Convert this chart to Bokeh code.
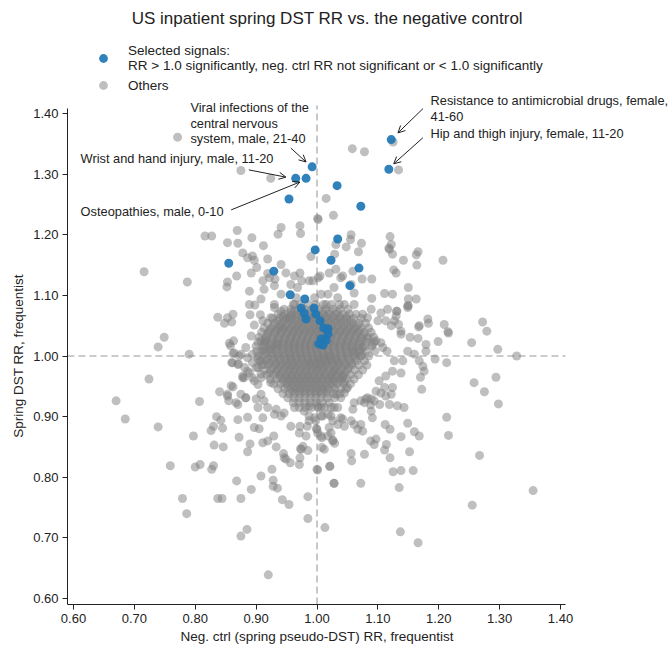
import math
from bokeh.plotting import figure
from bokeh.models import (Range1d, FixedTicker, NumeralTickFormatter, Label,
                          Arrow, OpenHead, Legend, LegendItem, ColumnDataSource)
from bokeh.embed import file_html
from bokeh.resources import INLINE

FONT = "Liberation Sans"

title_text = "US inpatient spring DST RR vs. the negative control"
x_label = "Neg. ctrl (spring pseudo-DST) RR, frequentist"
y_label = "Spring DST RR, frequentist"
legend_selected = "Selected signals:\nRR > 1.0 significantly, neg. ctrl RR not significant or < 1.0 significantly"
legend_others = "Others"
tick_values = [0.60, 0.70, 0.80, 0.90, 1.00, 1.10, 1.20, 1.30, 1.40]
axis_bounds = (0.5901, 1.408)
reference_rr = 1.0
reference_line_top = 1.413

# Selected signals (neg. ctrl RR, spring DST RR)
selected = [
    (1.122, 1.357), (1.118, 1.308), (0.992, 1.312), (0.965, 1.293), (0.982, 1.293),
    (1.033, 1.281), (0.954, 1.259), (1.072, 1.247), (0.997, 1.175), (1.034, 1.193),
    (1.023, 1.158), (1.069, 1.145), (1.054, 1.116), (0.855, 1.153), (0.929, 1.140),
    (0.956, 1.101), (0.980, 1.094), (0.974, 1.079), (0.979, 1.071), (0.982, 1.061),
    (0.995, 1.079), (0.998, 1.069), (1.005, 1.058), (1.011, 1.046), (1.018, 1.045),
    (1.018, 1.036), (1.007, 1.028), (1.003, 1.020), (1.010, 1.018), (1.015, 1.026),
]

# Others: upper part of the cloud
others_upper = [
    (0.771, 1.361), (0.875, 1.306), (0.924, 1.293), (1.058, 1.342), (1.078, 1.337),
    (1.125, 1.353), (1.134, 1.307), (1.015, 1.260), (1.027, 1.232), (1.001, 1.227),
    (1.002, 1.225), (0.972, 1.215), (0.973, 1.202), (0.941, 1.212), (0.936, 1.201),
    (0.893, 1.195), (0.816, 1.198), (0.827, 1.198), (0.869, 1.207), (0.853, 1.187),
    (0.870, 1.186), (0.912, 1.182), (0.878, 1.170), (0.886, 1.162), (0.894, 1.165),
    (0.897, 1.158), (0.941, 1.151), (0.990, 1.164), (1.031, 1.184), (1.029, 1.168),
    (1.048, 1.180), (1.056, 1.200), (1.055, 1.192), (1.068, 1.172), (1.073, 1.186),
    (1.120, 1.197), (1.122, 1.184), (1.119, 1.176), (1.118, 1.178), (1.124, 1.168),
    (1.142, 1.158), (1.163, 1.167), (1.166, 1.172), (1.164, 1.150), (1.207, 1.158),
    (1.126, 1.142), (1.130, 1.137), (1.090, 1.127), (1.074, 1.127), (1.059, 1.140),
    (1.039, 1.129), (1.020, 1.137), (1.111, 1.103), (1.124, 1.102), (1.090, 1.095),
    (1.150, 1.094), (1.163, 1.094), (1.131, 1.074), (1.149, 1.080), (1.182, 1.061),
    (1.150, 1.113), (1.150, 1.083), (1.083, 1.063), (1.075, 1.069),
    (0.716, 1.139), (0.787, 1.122), (0.853, 1.122), (0.868, 1.132), (0.889, 1.107),
    (0.913, 1.110), (0.901, 1.146), (0.919, 1.136), (0.931, 1.127), (0.930, 1.116),
    (0.949, 1.137), (0.963, 1.132), (0.972, 1.137), (0.975, 1.124), (0.957, 1.118),
    (0.968, 1.113), (0.987, 1.124), (1.005, 1.132), (1.031, 1.143), (1.042, 1.132),
    (1.028, 1.113), (1.018, 1.102), (1.061, 1.104), (1.056, 1.118), (0.889, 1.085),
    (0.908, 1.094), (0.930, 1.085), (0.941, 1.102), (0.941, 1.074), (0.963, 1.085),
    (0.966, 1.096), (0.996, 1.096), (1.007, 1.102), (1.015, 1.085), (1.034, 1.096),
    (1.045, 1.085), (1.061, 1.085), (0.862, 1.069), (0.853, 1.063), (0.919, 1.160),
    (0.892, 1.137), (0.852, 1.114), (0.911, 1.124), (0.922, 1.129), (0.993, 1.124),
    (1.002, 1.129),
]

# Others: left part of the cloud
others_left = [
    (0.898, 1.084), (0.890, 1.068), (0.907, 1.068), (0.924, 1.063), (0.897, 1.051),
    (0.911, 1.058), (0.837, 1.064), (0.848, 1.054), (0.860, 1.056), (0.856, 1.021),
    (0.863, 1.025), (0.858, 1.017), (0.892, 1.033), (0.883, 1.014), (0.908, 1.025),
    (0.916, 1.025), (0.922, 1.011), (0.875, 1.003), (0.862, 1.004), (0.908, 1.008),
    (0.935, 1.019), (0.941, 1.047), (0.930, 1.080), (0.952, 1.063), (0.963, 1.074),
    (0.860, 0.989), (0.870, 0.986), (0.880, 0.964), (0.886, 0.975), (0.894, 0.989),
    (0.903, 0.981), (0.908, 0.992), (0.840, 0.941), (0.853, 0.934), (0.855, 0.926),
    (0.862, 0.949), (0.883, 0.931), (0.870, 0.920), (0.903, 0.953), (0.900, 0.929),
    (0.913, 0.926), (0.807, 0.925), (0.870, 0.895), (0.886, 0.899), (0.835, 0.900),
    (0.842, 0.894), (0.830, 0.884), (0.826, 0.877), (0.845, 0.881), (0.897, 0.882),
    (0.905, 0.880), (0.911, 0.898), (0.930, 0.904), (0.797, 0.868), (0.872, 0.866),
    (0.890, 0.855), (0.911, 0.857), (0.919, 0.860), (0.929, 0.868), (0.933, 0.850),
    (0.831, 0.853), (0.846, 0.850), (0.886, 0.842), (0.945, 0.839), (0.949, 0.830),
    (0.956, 0.824), (0.971, 0.821), (0.972, 0.832), (0.973, 0.847), (0.985, 0.844),
    (0.971, 0.873), (0.972, 0.884),
    (0.864, 1.005), (0.872, 1.000), (0.861, 0.989), (0.871, 0.987), (0.886, 0.997),
    (0.894, 1.003), (0.903, 0.995), (0.881, 0.981), (0.889, 0.972), (0.878, 0.967),
    (0.900, 0.981), (0.913, 0.986), (0.908, 0.970), (0.897, 0.959), (0.922, 0.972),
    (0.924, 0.956), (0.859, 0.951), (0.878, 0.964), (0.894, 0.964), (0.908, 0.964),
    (0.875, 0.937), (0.883, 0.931), (0.908, 0.937), (0.853, 0.937), (0.867, 0.923),
    (0.903, 0.915), (0.919, 0.915), (0.933, 0.912), (0.941, 0.901), (0.946, 0.906),
    (0.957, 0.884), (0.963, 0.915), (0.979, 0.909), (0.987, 0.917), (0.974, 0.846),
    (0.946, 0.832), (0.987, 0.893),
    (0.749, 1.031), (0.739, 1.015), (0.790, 1.003),
    (0.724, 0.962), (0.670, 0.926), (0.685, 0.896), (0.739, 0.883),
]

# Others: right part of the cloud
others_right = [
    (1.272, 1.056), (1.279, 1.041), (1.209, 1.052), (1.216, 1.038), (1.215, 1.040),
    (1.183, 1.054), (1.168, 1.050), (1.167, 1.048), (1.199, 1.024), (1.254, 1.022),
    (1.297, 1.011), (1.328, 1.000), (1.213, 0.989), (1.194, 0.995), (1.179, 1.008),
    (1.179, 1.019), (1.160, 1.003), (1.149, 1.008), (1.166, 1.029), (1.153, 1.031),
    (1.138, 1.041), (1.130, 1.066), (1.131, 1.074), (1.149, 1.083), (1.116, 1.077),
    (1.105, 1.071), (1.089, 1.077), (1.100, 1.058), (1.113, 1.058), (1.127, 1.058),
    (1.122, 1.050), (1.138, 1.036), (1.134, 1.052), (1.174, 0.983), (1.168, 0.992),
    (1.176, 0.975), (1.170, 0.965), (1.172, 0.945), (1.258, 0.956), (1.294, 0.965),
    (1.275, 0.941), (1.298, 0.921), (1.213, 0.899), (1.216, 0.869), (1.267, 0.836),
    (1.255, 0.754), (1.355, 0.778), (1.166, 0.692), (1.137, 0.710), (1.135, 0.783),
    (1.158, 0.811), (1.138, 0.811), (1.125, 0.809), (1.152, 0.842), (1.120, 0.832),
    (1.111, 0.845), (1.114, 0.854), (1.097, 0.863), (1.088, 0.860), (1.094, 0.854),
    (1.078, 0.838), (1.072, 0.790), (1.056, 0.839), (1.057, 0.827), (1.028, 0.790),
    (1.021, 0.818), (1.013, 0.717), (1.029, 0.856), (1.138, 0.867), (1.149, 0.889),
    (1.160, 0.875), (1.168, 0.868), (1.112, 0.887), (1.120, 0.879), (1.103, 0.920),
    (1.119, 0.920), (1.132, 0.918), (1.143, 0.915), (1.091, 0.898), (1.089, 0.909),
    (1.088, 0.919), (1.072, 0.887), (1.075, 0.876), (1.061, 0.887), (1.067, 0.879),
    (1.056, 0.893), (1.042, 0.896), (1.045, 0.884), (1.039, 0.898), (1.028, 0.915),
    (1.034, 0.915), (1.059, 0.912), (1.061, 0.923), (1.072, 0.926), (1.078, 0.923),
    (1.080, 0.929), (1.083, 0.931), (1.089, 0.929), (1.094, 0.926), (1.111, 0.948),
    (1.124, 0.948), (1.122, 0.937), (1.113, 0.934), (1.105, 0.939), (1.097, 0.942),
    (1.102, 0.959), (1.113, 0.967), (1.124, 0.975), (1.138, 0.972), (1.141, 0.992),
    (1.127, 0.992), (1.115, 1.008), (1.105, 1.022), (1.108, 1.014), (1.097, 1.025),
    (1.091, 1.019), (1.083, 1.028), (1.075, 1.014), (1.072, 1.000), (1.061, 1.008),
    (1.023, 0.873), (1.026, 0.860), (1.020, 0.882), (1.008, 0.865), (1.001, 0.873),
    (1.007, 0.915), (0.987, 0.901), (0.996, 0.898), (1.007, 0.901), (1.018, 0.904),
    (1.023, 0.915), (1.039, 0.931), (1.031, 0.937), (1.045, 0.939), (1.050, 0.948),
    (1.045, 0.959), (1.042, 0.967), (1.023, 0.964), (1.028, 0.975), (1.031, 0.992),
    (1.018, 0.992), (1.020, 1.000), (1.007, 0.997), (1.004, 0.986), (0.990, 0.989),
    (0.984, 0.884), (0.982, 0.868), (0.977, 0.851), (1.000, 0.879), (0.999, 0.880),
    (1.008, 0.849), (1.012, 0.846), (1.026, 0.861), (1.018, 0.868), (1.007, 0.868),
    (0.998, 0.893), (1.001, 0.917), (1.009, 0.901), (1.026, 0.893),
    (1.023, 0.901), (1.034, 0.887),
]

# Others: lower part of the cloud
others_lower = [
    (0.759, 0.819), (0.800, 0.817), (0.808, 0.821), (0.830, 0.819), (0.827, 0.813),
    (0.868, 0.794), (0.892, 0.780), (0.908, 0.802), (0.926, 0.813), (0.928, 0.795),
    (0.928, 0.785), (0.935, 0.782), (0.779, 0.765), (0.837, 0.765), (0.844, 0.765),
    (0.875, 0.765), (0.943, 0.763), (0.954, 0.755), (0.985, 0.768), (0.985, 0.732),
    (0.786, 0.740), (0.875, 0.703), (0.885, 0.714), (0.920, 0.639), (1.000, 0.813),
    (1.001, 0.812), (1.021, 0.818), (1.028, 0.790),
]

# Others: dense centre of the cloud, row by row (spring DST RR, neg. ctrl RRs)
others_core_a = [
    (1.085, [0.961, 0.973, 0.986, 0.998, 1.011, 1.024, 1.037]),
    (1.077, [0.946, 0.957, 0.969, 0.980, 0.991, 1.003, 1.014, 1.026, 1.038, 1.051]),
    (1.069, [0.936, 0.947, 0.958, 0.968, 0.979, 0.989, 0.999, 1.010, 1.020, 1.031, 1.042, 1.053,
             1.064]),
    (1.062, [0.927, 0.938, 0.949, 0.959, 0.969, 0.979, 0.989, 0.998, 1.008, 1.018, 1.028, 1.038,
             1.049, 1.060, 1.073]),
    (1.054, [0.919, 0.931, 0.942, 0.952, 0.962, 0.972, 0.981, 0.991, 1.000, 1.010, 1.019, 1.029,
             1.039, 1.049, 1.059, 1.069, 1.080]),
    (1.046, [0.913, 0.925, 0.936, 0.946, 0.956, 0.966, 0.975, 0.985, 0.994, 1.003, 1.013, 1.022,
             1.032, 1.042, 1.052, 1.062, 1.073, 1.085]),
    (1.039, [0.909, 0.920, 0.931, 0.941, 0.951, 0.961, 0.970, 0.980, 0.989, 0.998, 1.008, 1.017,
             1.027, 1.037, 1.047, 1.057, 1.067, 1.078, 1.089]),
    (1.031, [0.905, 0.916, 0.927, 0.937, 0.947, 0.957, 0.966, 0.976, 0.985, 0.994, 1.004, 1.013,
             1.023, 1.033, 1.043, 1.053, 1.063, 1.073, 1.084, 1.093]),
    (1.023, [0.903, 0.914, 0.924, 0.934, 0.944, 0.954, 0.963, 0.973, 0.982, 0.991, 1.001, 1.010,
             1.020, 1.030, 1.040, 1.050, 1.060, 1.070, 1.081, 1.094]),
    (1.016, [0.900, 0.911, 0.922, 0.932, 0.942, 0.952, 0.961, 0.970, 0.980, 0.989, 0.998, 1.008,
             1.017, 1.027, 1.037, 1.047, 1.057, 1.067, 1.078, 1.090]),
    (1.008, [0.901, 0.912, 0.923, 0.933, 0.943, 0.953, 0.962, 0.971, 0.981, 0.990, 0.999, 1.009,
             1.018, 1.028, 1.038, 1.048, 1.058, 1.069, 1.081, 1.095]),
    (1.000, [0.903, 0.914, 0.925, 0.935, 0.945, 0.955, 0.964, 0.973, 0.983, 0.992, 1.001, 1.011,
             1.020, 1.030, 1.040, 1.050, 1.061, 1.072, 1.085]),
    (0.992, [0.906, 0.917, 0.928, 0.938, 0.948, 0.957, 0.966, 0.976, 0.985, 0.994, 1.004, 1.013,
             1.023, 1.033, 1.043, 1.054, 1.065, 1.078]),
    (0.985, [0.909, 0.920, 0.931, 0.941, 0.951, 0.960, 0.969, 0.979, 0.988, 0.997, 1.007, 1.016,
             1.026, 1.036, 1.046, 1.057, 1.069, 1.082]),
    (0.977, [0.913, 0.924, 0.935, 0.945, 0.954, 0.963, 0.972, 0.982, 0.991, 1.000, 1.010, 1.019,
             1.029, 1.039, 1.050, 1.062, 1.075]),
    (0.969, [0.918, 0.929, 0.939, 0.949, 0.958, 0.967, 0.976, 0.985, 0.994, 1.004, 1.013, 1.023,
             1.033, 1.043, 1.055, 1.068]),
    (0.962, [0.923, 0.934, 0.944, 0.953, 0.962, 0.971, 0.980, 0.989, 0.998, 1.008, 1.017, 1.027,
             1.037, 1.049, 1.061]),
    (0.954, [0.929, 0.940, 0.950, 0.959, 0.968, 0.977, 0.986, 0.995, 1.004, 1.013, 1.023, 1.033,
             1.044, 1.055]),
    (0.946, [0.936, 0.947, 0.956, 0.965, 0.974, 0.983, 0.992, 1.001, 1.010, 1.019, 1.029, 1.039,
             1.048]),
    (0.938, [0.944, 0.954, 0.963, 0.972, 0.981, 0.990, 0.999, 1.008, 1.017, 1.027, 1.038]),
    (0.931, [0.952, 0.962, 0.971, 0.980, 0.989, 0.998, 1.007, 1.017, 1.029]),
    (0.923, [0.961, 0.971, 0.980, 0.989, 0.999, 1.009, 1.020]),
    (0.915, [0.971, 0.981, 0.991, 1.002, 1.012]),
]

others_core_b = [
    (1.073, [0.958, 0.975, 0.993, 1.008, 1.020, 1.033]),
    (1.065, [0.944, 0.955, 0.965, 0.975, 0.985, 0.995, 1.005, 1.015, 1.026, 1.037, 1.048]),
    (1.058, [0.936, 0.946, 0.956, 0.966, 0.976, 0.986, 0.995, 1.004, 1.014, 1.023, 1.033, 1.044,
             1.055]),
    (1.050, [0.928, 0.939, 0.949, 0.959, 0.968, 0.977, 0.987, 0.996, 1.005, 1.014, 1.024, 1.034,
             1.044, 1.055, 1.066]),
    (1.042, [0.922, 0.934, 0.944, 0.954, 0.963, 0.972, 0.981, 0.990, 0.999, 1.008, 1.018, 1.028,
             1.038, 1.048, 1.059, 1.070]),
    (1.035, [0.918, 0.930, 0.940, 0.950, 0.959, 0.968, 0.977, 0.986, 0.995, 1.004, 1.013, 1.023,
             1.033, 1.043, 1.053, 1.064, 1.076]),
    (1.027, [0.915, 0.927, 0.937, 0.947, 0.956, 0.965, 0.974, 0.983, 0.992, 1.001, 1.010, 1.020,
             1.030, 1.040, 1.050, 1.061, 1.073]),
    (1.019, [0.913, 0.925, 0.935, 0.945, 0.954, 0.963, 0.972, 0.981, 0.990, 0.999, 1.008, 1.018,
             1.028, 1.038, 1.048, 1.059, 1.071]),
    (1.012, [0.913, 0.925, 0.935, 0.945, 0.954, 0.963, 0.972, 0.981, 0.990, 0.999, 1.008, 1.018,
             1.028, 1.038, 1.048, 1.059, 1.071]),
    (1.004, [0.915, 0.927, 0.937, 0.947, 0.956, 0.965, 0.974, 0.983, 0.992, 1.001, 1.010, 1.020,
             1.030, 1.040, 1.050, 1.061, 1.073]),
    (0.996, [0.918, 0.929, 0.939, 0.949, 0.958, 0.967, 0.976, 0.985, 0.994, 1.003, 1.012, 1.022,
             1.032, 1.042, 1.052, 1.063]),
    (0.988, [0.922, 0.933, 0.943, 0.953, 0.962, 0.971, 0.980, 0.989, 0.998, 1.007, 1.016, 1.026,
             1.036, 1.046, 1.057]),
    (0.981, [0.927, 0.938, 0.948, 0.957, 0.966, 0.975, 0.984, 0.993, 1.002, 1.011, 1.021, 1.031,
             1.041, 1.052]),
    (0.973, [0.933, 0.943, 0.953, 0.962, 0.971, 0.980, 0.989, 0.998, 1.007, 1.016, 1.026, 1.036,
             1.047]),
    (0.965, [0.939, 0.949, 0.958, 0.967, 0.976, 0.985, 0.994, 1.003, 1.012, 1.022, 1.032, 1.042]),
    (0.958, [0.945, 0.955, 0.964, 0.973, 0.982, 0.991, 1.000, 1.009, 1.019, 1.029, 1.038]),
    (0.950, [0.952, 0.962, 0.971, 0.980, 0.989, 0.998, 1.007, 1.016, 1.026]),
    (0.942, [0.960, 0.970, 0.979, 0.988, 0.997, 1.006, 1.015]),
]

# Annotations: (text lines, label x, first line y, arrow tail, arrow head)
annotations = [
    (["Viral infections of the", "central nervous", "system, male, 21-40"],
     0.792, 1.410, (0.957, 1.343), (0.982, 1.320)),
    (["Wrist and hand injury, male, 11-20"], 0.6117, 1.326, (0.888, 1.307), (0.949, 1.295)),
    (["Osteopathies, male, 0-10"], 0.6117, 1.238, (0.859, 1.241), (0.972, 1.287)),
    (["Resistance to antimicrobial drugs, female,", "41-60"],
     1.1865, 1.421, (1.174, 1.408), (1.133, 1.368)),
    (["Hip and thigh injury, female, 11-20"], 1.1865, 1.367, (1.174, 1.360), (1.126, 1.317)),
]

# ---------------------------------------------------------------------------
others = others_upper + others_left + others_right + others_lower
for y_row, xs_row in others_core_a + others_core_b:
    others = others + [(xv, y_row) for xv in xs_row]

src_others = ColumnDataSource(dict(x=[q[0] for q in others], y=[q[1] for q in others]))
src_sel = ColumnDataSource(dict(x=[q[0] for q in selected], y=[q[1] for q in selected]))

# The data frame spans the whole canvas; the axes are pinned at the lower-left corner of
# the data area so that title, legend and annotations around them are not clipped.
p = figure(width=670, height=648, output_backend="svg", toolbar_location=None,
           x_range=Range1d(0.48008, 1.58070), y_range=Range1d(0.51753, 1.58639),
           min_border=0, min_border_left=0, min_border_right=0,
           min_border_top=0, min_border_bottom=0)
p.outline_line_color = None
p.grid.visible = False
p.background_fill_color = "white"
p.border_fill_color = "white"

for ax in (p.xaxis[0], p.yaxis[0]):
    ax.fixed_location = axis_bounds[0]
    ax.bounds = axis_bounds
    ax.ticker = FixedTicker(ticks=tick_values)
    ax.formatter = NumeralTickFormatter(format="0.00")
    ax.major_tick_out = 5
    ax.major_tick_in = 0
    ax.minor_tick_line_color = None
    ax.axis_line_color = "#222222"
    ax.major_tick_line_color = "#222222"
    ax.major_label_text_font = FONT
    ax.major_label_text_font_size = "13px"
    ax.major_label_text_color = "#222222"
    ax.major_label_standoff = 4

# axis titles
p.add_layout(Label(x=1.0, y=0.5373, text=x_label, text_font=FONT, text_font_size="13.5px",
                   text_color="#222222", text_align="center", text_baseline="middle"))
p.add_layout(Label(x=0.5097, y=1.0, text=y_label, text_font=FONT, text_font_size="13.5px",
                   text_color="#222222", text_align="center", text_baseline="middle",
                   angle=math.pi / 2))

# reference lines at RR = 1.0
p.segment(x0=[reference_rr, axis_bounds[0]], y0=[axis_bounds[0], reference_rr],
          x1=[reference_rr, axis_bounds[1]], y1=[reference_line_top, reference_rr],
          line_color="#bbbbbb", line_width=1.6, line_dash="7 4")

r_oth = p.scatter("x", "y", source=src_others, size=9, fill_color="#808080",
                  fill_alpha=0.5, line_color=None)
r_sel = p.scatter("x", "y", source=src_sel, size=9, fill_color="#1f77b4",
                  fill_alpha=0.92, line_color=None)

for lines, lx, ly, tail, head in annotations:
    for i, t in enumerate(lines):
        p.add_layout(Label(x=lx, y=ly - i * 0.026, text=t, text_font=FONT,
                           text_font_size="12.8px", text_color="#222222",
                           text_baseline="middle", text_align="left"))
    p.add_layout(Arrow(end=OpenHead(size=7, line_width=1, line_color="#222222"),
                       x_start=tail[0], y_start=tail[1], x_end=head[0], y_end=head[1],
                       line_width=1, line_color="#222222"))

p.add_layout(Label(x=1.017, y=1.5567, text=title_text, text_font=FONT,
                   text_font_size="17px", text_color="#222222",
                   text_baseline="middle", text_align="center"))

legend = Legend(items=[LegendItem(label=legend_selected, renderers=[r_sel]),
                       LegendItem(label=legend_others, renderers=[r_oth])],
                location=(92, 552), padding=0, margin=0, spacing=1,
                glyph_width=22, glyph_height=22, label_standoff=14,
                label_text_font=FONT, label_text_font_size="13.5px",
                label_text_line_height=1.1,
                label_text_color="#222222", border_line_color=None,
                background_fill_alpha=0)
p.add_layout(legend)

open("out.html", "w").write(file_html(p, INLINE))
